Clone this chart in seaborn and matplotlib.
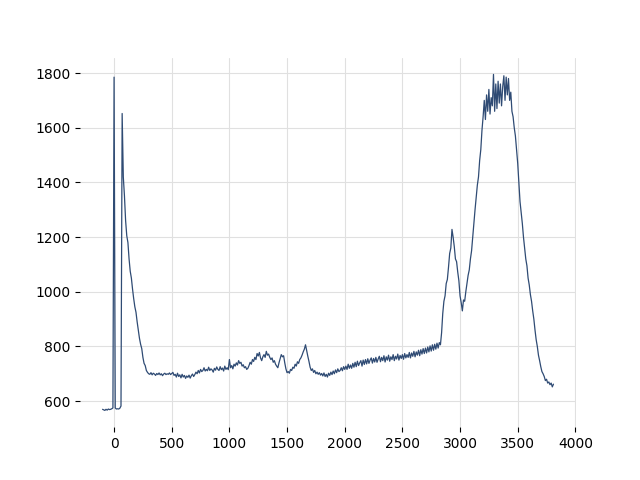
import numpy as np
import pandas as pd
import seaborn as sns
import matplotlib
matplotlib.use("Agg")
import matplotlib.pyplot as plt

# signal, one value every 10 units of x, in segments
STEP = 10

seg_baseline = (-100, [570, 568, 566, 570, 567, 571, 569, 570, 572, 575,
                       1785, 575, 571, 572, 571, 574, 582])

seg_decay = (70, [1652, 1420, 1350, 1260, 1205, 1180, 1120, 1075, 1050, 1010,
                  975, 945, 925, 890, 860, 830, 808, 792, 760, 738,
                  730, 712, 705, 700])

seg_flat = (310, [698, 704, 696, 702, 699, 694, 701, 697, 703, 696,
                  700, 693, 699, 702, 697, 700, 698, 703, 697, 701,
                  705, 694, 698, 688, 702, 690, 696, 685, 698, 688,
                  694, 683, 692, 687, 695, 684, 693, 699, 690, 697,
                  706, 700, 712, 703, 716, 708, 712, 722, 710, 716,
                  711, 724, 712, 718, 714, 706, 720, 713, 725, 716,
                  712, 726, 715, 721, 710, 728, 716, 722, 715, 752])

seg_bumps = (1010, [722, 730, 718, 735, 728, 740, 732, 748, 738, 742,
                    728, 733, 722, 726, 716, 720, 730, 742, 735, 752,
                    745, 760, 752, 774, 765, 778, 758, 748, 762, 770,
                    760, 782, 768, 772, 760, 752, 758, 742, 748, 735,
                    728, 722, 740, 755, 770, 762, 766, 740, 718, 704,
                    708, 702, 716, 712, 724, 720, 735, 728, 744, 738,
                    752, 758, 768, 780, 790, 806, 784, 764, 745, 724,
                    712, 718, 705, 712, 700, 706, 698, 704, 695, 701])

seg_slope = (1810, [692, 703, 690, 698, 688, 702, 694, 706, 697, 710,
                    700, 714, 704, 718, 708, 712, 722, 711, 726, 716,
                    728, 716, 735, 720, 732, 720, 738, 724, 742, 726,
                    746, 730, 740, 748, 728, 750, 734, 752, 736, 755,
                    738, 750, 758, 739, 756, 743, 760, 742, 754, 764,
                    744, 760, 748, 766, 743, 762, 750, 768, 746, 762,
                    752, 770, 748, 764, 754, 772, 750, 767, 756, 770,
                    753, 774, 758, 770, 760, 778, 758, 776, 764, 782,
                    762, 780, 768, 786, 766, 788, 772, 792, 774, 794,
                    776, 798, 780, 802, 783, 806, 786, 808, 790, 812,
                    794, 814, 806])

seg_rise = (2840, [850, 920, 965, 985, 1030, 1045, 1090, 1140, 1160, 1228,
                   1200, 1165, 1120, 1110, 1072, 1040, 985, 960, 930, 970,
                   965, 1000, 1030, 1060, 1080, 1120, 1150, 1200, 1250, 1300,
                   1345, 1390, 1420, 1480, 1520, 1590, 1640])

seg_top = (3210, [1700, 1630, 1720, 1660, 1740, 1650, 1710, 1680, 1795, 1660,
                  1760, 1670, 1770, 1690, 1760, 1680, 1750, 1790, 1700, 1785,
                  1720, 1780, 1700, 1730, 1660, 1640])

seg_fall = (3470, [1600, 1570, 1520, 1470, 1400, 1330, 1290, 1250, 1200, 1160,
                   1120, 1095, 1050, 1025, 990, 965, 930, 900, 860, 825,
                   800, 768, 748, 726, 708, 700, 690, 675, 680, 666,
                   670, 660, 666, 652, 662])

segments = [seg_baseline, seg_decay, seg_flat, seg_bumps,
            seg_slope, seg_rise, seg_top, seg_fall]

xs, ys = [], []
for start, vals in segments:
    for i, v in enumerate(vals):
        xs.append(start + i * STEP)
        ys.append(v)
df = pd.DataFrame({"x": xs, "y": ys})

sns.set_style("whitegrid", {
    "grid.color": "#e0e0e0",
    "axes.spines.left": False, "axes.spines.right": False,
    "axes.spines.top": False, "axes.spines.bottom": False,
    "xtick.bottom": True, "ytick.left": True,
    "xtick.color": "black", "ytick.color": "black",
    "axes.labelcolor": "black", "text.color": "black",
})
plt.rcParams["font.family"] = ["DejaVu Sans"]

fig, ax = plt.subplots(figsize=(6.4, 4.8), dpi=100)
sns.lineplot(data=df, x="x", y="y", ax=ax, color="#2f4b74", linewidth=0.9,
             estimator=None, sort=False)
ax.set_xlabel("")
ax.set_ylabel("")
ax.tick_params(axis="both", labelsize=10, length=3.5, width=0.8)
ax.set_xticks(np.arange(0, 4001, 500))
fig.savefig("out.png", dpi=100)
